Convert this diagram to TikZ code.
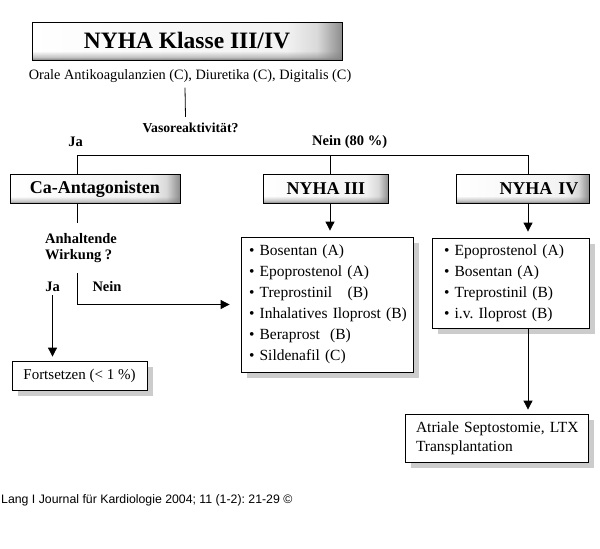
\documentclass[tikz,border=0pt]{standalone}
\usepackage{fontspec}
\setmainfont{Liberation Serif}
\newfontfamily\footfont{Liberation Sans}
\usetikzlibrary{positioning, arrows.meta, shadows, fadings}
\pgfdeclarehorizontalshading{bevel}{100bp}{color(0bp)=(white); color(25bp)=(white); color(66bp)=(black!5); color(71bp)=(black!15); color(75bp)=(black!45); color(100bp)=(black!45)}
\pgfdeclareverticalshading{botfadesh}{100bp}{color(0bp)=(pgftransparent!0); color(25bp)=(pgftransparent!0); color(29bp)=(pgftransparent!55); color(37bp)=(pgftransparent!100); color(100bp)=(pgftransparent!100)}
\pgfdeclarefading{botfade}{\pgfuseshading{botfadesh}}
\newcommand{\fsz}[2]{\fontsize{#1}{#2}\selectfont}
\newcommand{\itm}{\hspace*{3pt}\textbullet\ }
\frenchspacing

\begin{document}
\begin{tikzpicture}[
  x=1pt, y=-1pt,
  >={Triangle[width=9pt,length=9pt]}
]
% -------------------- Styles --------------------
\tikzset{
  frame/.style={draw, line width=0.8pt, inner sep=0pt},
  box/.style={
    frame, fill=white,
    drop shadow={shadow xshift=6pt, shadow yshift=-6pt, fill=black!40}
  },
  head/.style={
    frame, shade, shading=bevel,
    postaction={fill=black!50, path fading=botfade},
    postaction={draw, line width=0.8pt},
    font=\fsz{18}{20}\bfseries, minimum height=29pt
  },
  list/.style={
    box, align=left, font=\fsz{15.5}{20.9}, inner xsep=5pt
  },
  lbl/.style={font=\fsz{14.5}{16}\bfseries, inner sep=1pt},
  arrow/.style={->, line width=0.8pt},
  link/.style={line width=0.8pt}
}
\useasboundingbox (0,0) rectangle (600,549);

% -------------------- Top --------------------
\node[head, font=\fsz{23.5}{26}\bfseries, minimum width=310pt, minimum height=38pt]
  (title) at (187,41) {NYHA Klasse III/IV};

\node[font=\fsz{14.3}{16}, inner sep=1pt] (orale) at (190,76)
  {Orale Antikoagulanzien (C), Diuretika (C), Digitalis (C)};

\node[font=\fsz{13.7}{16}\bfseries, inner sep=1pt] (vaso) at (190.5,128) {Vasoreaktivität?};

\node[lbl] (ja1) at (75.5,142) {Ja};
\node[lbl, anchor=west] (nein1) at (311,142) {Nein (80 \%)};

\draw[link] ([xshift=-5pt,yshift=-4pt]orale.south) -- ([xshift=-5pt,yshift=5pt]vaso.north);

% -------------------- Second row --------------------
\node[head, minimum width=170pt] (ca) at (95,189) {Ca-Antagonisten};
\node[head, minimum width=125pt] (n3) at (326,188.5) {NYHA III};
\node[head, minimum width=133pt, text width=112pt, align=right] (n4) at (522.5,188.5) {NYHA IV};

\coordinate (jL) at (77,155);
\coordinate (jM) at (330,155);
\coordinate (jR) at (528,155);

\draw[link] (jL |- ca.north) -- (jL) -- (jR) -- (jR |- n4.north);
\draw[link] (jM) -- (jM |- n3.north);

% -------------------- Lists --------------------
\node[list, minimum width=172pt, minimum height=135pt, text width=162pt] (n3list) at (327,304.5) {
  \itm Bosentan (A)\\
  \itm Epoprostenol (A)\\
  \itm Treprostinil\ \ \ (B)\\
  \itm Inhalatives Iloprost (B)\\
  \itm Beraprost\ \ (B)\\
  \itm Sildenafil (C)
};

\node[list, minimum width=157pt, minimum height=90pt, inner xsep=9pt, text width=139pt] (n4list) at (510.5,283) {
  \itm Epoprostenol (A)\\
  \itm Bosentan (A)\\
  \itm Treprostinil (B)\\
  \itm i.v.\ Iloprost (B)
};

\draw[arrow, shorten >=6pt] (jM |- n3.south) -- (jM |- n3list.north);
\draw[arrow, shorten >=6pt] (jR |- n4.south) -- (jR |- n4list.north);

% -------------------- Ca branch --------------------
\draw[link] (jL |- ca.south) -- ++(0,19);

\node[lbl, align=left, anchor=west] (wirk) at (44,248) {Anhaltende\\Wirkung ?};
\node[lbl] (ja2) at (52.5,287) {Ja};
\node[lbl] (nein2) at (107,287) {Nein};

\coordinate (jW) at (77,273);
\draw[arrow, shorten >=11pt] (jW) -- (jW |- n3list.west) -- (n3list.west);

\node[box, minimum width=135pt, minimum height=29pt, font=\fsz{15}{18}] (fort) at (79.5,375.5) {Fortsetzen (< 1 \%)};
\draw[arrow, shorten <=2pt, shorten >=4pt] (ja2.south) -- (ja2.south |- fort.north);

% -------------------- NYHA IV branch --------------------
\node[box, minimum width=183pt, minimum height=48pt, align=left, inner xsep=6pt, text width=171pt,
      font=\fsz{15.5}{19}] (atrial) at (496.5,438) {
  \hspace*{5pt}Atriale Septostomie, LTX\\
  \hspace*{5pt}Transplantation
};
\draw[arrow, shorten >=4pt] (jR |- n4list.south) -- (jR |- atrial.north);

% -------------------- Footer --------------------
\node[font=\footfont\fsz{12.3}{14}, anchor=west, inner sep=0pt] (foot) at (1,500)
  {Lang I Journal für Kardiologie 2004; 11 (1-2): 21-29 ©};

\end{tikzpicture}
\end{document}
